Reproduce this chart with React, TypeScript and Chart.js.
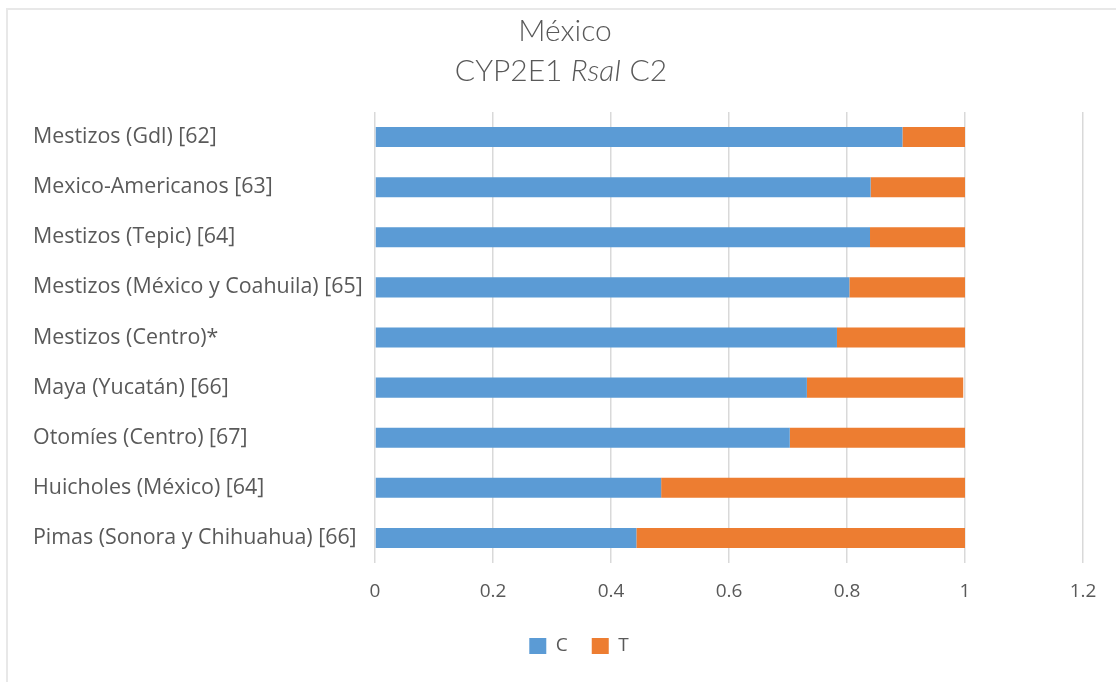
import React, { useEffect, useRef } from "react";
import { Chart, registerables } from "chart.js";

Chart.register(...registerables);

// Populations (top to bottom) and allele frequencies
const categories = [
  "Mestizos (Gdl) [62]",
  "Mexico-Americanos [63]",
  "Mestizos (Tepic) [64]",
  "Mestizos (México y Coahuila) [65]",
  "Mestizos (Centro)*",
  "Maya (Yucatán) [66]",
  "Otomíes (Centro) [67]",
  "Huicholes (México) [64]",
  "Pimas (Sonora y Chihuahua) [66]",
];
const cValues = [0.894, 0.84, 0.839, 0.804, 0.783, 0.732, 0.703, 0.485, 0.443];
const tValues = [0.106, 0.16, 0.161, 0.196, 0.217, 0.265, 0.297, 0.515, 0.557];
const seriesNames = ["C", "T"];
const titleLine1 = "México";
const titleLine2 = ["CYP2E1 ", "RsaI", " C2"];

const TEXT = "#595959";
const LABEL_FONT = "'Open Sans', 'Noto Sans', sans-serif";
const TITLE_FONT = "Lato, 'Open Sans', sans-serif";

// Two-line title with the enzyme name in italics
const titlePlugin = {
  id: "mixedTitle",
  afterDraw(chart: any) {
    const ctx = chart.ctx;
    ctx.save();
    ctx.fillStyle = TEXT;
    ctx.textBaseline = "middle";
    const cx = 561;
    ctx.font = `300 30px ${TITLE_FONT}`;
    ctx.textAlign = "center";
    ctx.fillText(titleLine1, cx + 4, 31);
    const fonts = [
      `300 30px ${TITLE_FONT}`,
      `italic 300 30px ${TITLE_FONT}`,
      `300 30px ${TITLE_FONT}`,
    ];
    const widths = titleLine2.map((t, i) => {
      ctx.font = fonts[i];
      return ctx.measureText(t).width;
    });
    const total = widths.reduce((a, b) => a + b, 0);
    let x = cx - total / 2;
    ctx.textAlign = "left";
    titleLine2.forEach((t, i) => {
      ctx.font = fonts[i];
      ctx.fillText(t, x, 71);
      x += widths[i];
    });
    ctx.restore();
  },
};

// Nudge the legend row to the right
const legendShift = {
  id: "legendShift",
  afterLayout(chart: any) {
    if (chart.legend) {
      chart.legend.left += 21;
      chart.legend.right += 21;
    }
  },
};

export default function App() {
  const canvasRef = useRef<HTMLCanvasElement | null>(null);

  useEffect(() => {
    const canvas = canvasRef.current;
    if (!canvas) return;
    const chart = new Chart(canvas, {
      type: "bar",
      data: {
        labels: categories,
        datasets: [
          {
            label: seriesNames[0],
            data: cValues,
            backgroundColor: "#5B9BD5",
            borderWidth: 0,
            barPercentage: 0.4,
            categoryPercentage: 1,
          },
          {
            label: seriesNames[1],
            data: tValues,
            backgroundColor: "#ED7D31",
            borderWidth: 0,
            barPercentage: 0.4,
            categoryPercentage: 1,
          },
        ],
      },
      options: {
        indexAxis: "y",
        animation: false,
        responsive: false,
        maintainAspectRatio: false,
        layout: { padding: { left: 33, right: 33, top: 112, bottom: 16.5 } },
        scales: {
          x: {
            stacked: true,
            min: 0,
            max: 1.2,
            border: { display: false },
            grid: { color: "#d9d9d9", lineWidth: 1.5, drawTicks: false },
            ticks: {
              stepSize: 0.2,
              padding: 17,
              color: TEXT,
              font: { family: LABEL_FONT, size: 19 },
              callback: (v: any) => String(Number(Number(v).toFixed(1))),
            },
            afterFit: (scale: any) => {
              scale.height = 49.5;
            },
          },
          y: {
            stacked: true,
            border: { display: false },
            grid: { display: false, drawTicks: false },
            ticks: {
              crossAlign: "far",
              color: TEXT,
              font: { family: LABEL_FONT, size: 21.4 },
            },
            afterFit: (scale: any) => {
              scale.width = 342;
            },
          },
        },
        plugins: {
          title: { display: false },
          tooltip: { enabled: false },
          legend: {
            position: "bottom",
            labels: {
              boxWidth: 17,
              boxHeight: 16,
              padding: 24,
              color: TEXT,
              font: { family: LABEL_FONT, size: 19 },
            },
          },
        },
      },
      plugins: [titlePlugin, legendShift],
    });
    return () => chart.destroy();
  }, []);

  return (
    <div
      style={{
        position: "fixed",
        left: 0,
        top: 0,
        width: 1116,
        height: 682,
        overflow: "hidden",
        background: "#ffffff",
      }}
    >
      <div
        style={{
          position: "absolute",
          left: 6,
          top: 8,
          width: 1200,
          height: 800,
          border: "2px solid #e8e8e8",
          boxSizing: "border-box",
        }}
      />
      <canvas
        ref={canvasRef}
        width={1116}
        height={682}
        style={{ position: "absolute", left: 0, top: 0 }}
      />
    </div>
  );
}
